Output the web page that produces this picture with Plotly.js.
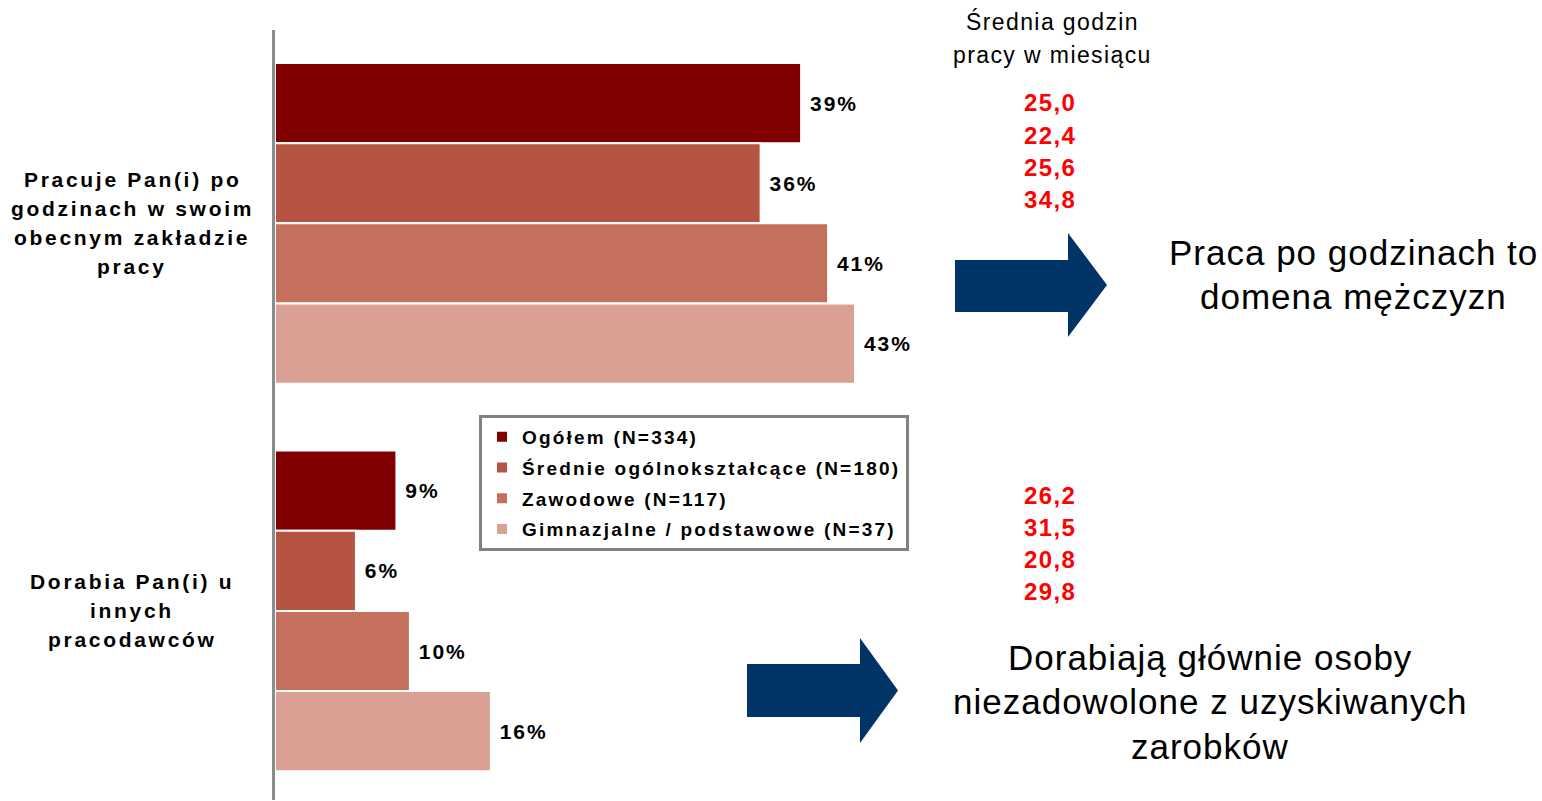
<!DOCTYPE html>
<html><head><meta charset="utf-8">
<script src="https://cdn.plot.ly/plotly-3.0.1.min.js"></script>
<style>body{margin:0;background:#fff}#chart{width:1542px;height:801px}</style>
</head><body><div id="chart"></div>
<script>
// ---- data ----
const categories = ['Pracuje Pan(i) po godzinach w swoim obecnym zakładzie pracy', 'Dorabia Pan(i) u innych pracodawców'];
const categoryLines = [['Pracuje Pan(i) po', 'godzinach w swoim', 'obecnym zakładzie', 'pracy'], ['Dorabia Pan(i) u', 'innych', 'pracodawców']];
const seriesNames = ['Ogółem (N=334)', 'Średnie ogólnokształcące (N=180)', 'Zawodowe (N=117)', 'Gimnazjalne / podstawowe (N=37)'];
const ogolem = [39, 9];
const srednie = [36, 6];
const zawodowe = [41, 10];
const gimnazjalne = [43, 16];
const avgHoursTitle = ['Średnia godzin', 'pracy w miesiącu'];
const avgHoursGroup1 = ['25,0', '22,4', '25,6', '34,8'];
const avgHoursGroup2 = ['26,2', '31,5', '20,8', '29,8'];
const note1 = ['Praca po godzinach to', 'domena mężczyzn'];
const note2 = ['Dorabiają głównie osoby', 'niezadowolone z uzyskiwanych', 'zarobków'];

// ---- styling ----
const colors = ['#800000', '#b55442', '#c5705d', '#d9a093'];
const FONT = 'Liberation Sans, Arial, sans-serif';
const W = 1542, H = 801, PL = 275, PR = 1542, PT = 30, PB = 800;
const px = v => (v - PL) / (PR - PL);
const py = v => (PB - v) / (PB - PT);
const sp = (t, s) => `<span style="letter-spacing:${s}px">${t}</span>`;

const seriesValues = [ogolem, srednie, zawodowe, gimnazjalne];
const traces = seriesValues.map((vals, i) => ({
  type: 'bar', orientation: 'h',
  x: vals, y: categories,
  name: sp(seriesNames[i], 2.2),
  legendgroup: 'g' + i,
  marker: {color: colors[i], line: {color: '#ffffff', width: 2}},
  texttemplate: '\u00a0' + sp('%{x}%', 2),
  textposition: 'outside',
  cliponaxis: false,
  textfont: {family: FONT, size: 21, weight: 'bold', color: '#000'},
  hoverinfo: 'skip'
}));

const annotations = [];
// category labels tied to the y categories
categoryLines.forEach((lines, ci) => {
  const n = lines.length;
  lines.forEach((ln, li) => {
    annotations.push({
      xref: 'paper', yref: 'y', x: px(132), y: categories[ci],
      yshift: -((li - (n - 1) / 2) * 29),
      text: sp(ln, 2.7), showarrow: false, xanchor: 'center', yanchor: 'middle',
      font: {family: FONT, size: 21, weight: 'bold', color: '#000'}
    });
  });
});
const addLines = (lines, cx, ys, size, color, weight, spacing) => {
  lines.forEach((ln, i) => annotations.push({
    xref: 'paper', yref: 'paper', x: px(cx), y: py(ys[i]),
    text: sp(ln, spacing), showarrow: false, xanchor: 'center', yanchor: 'middle',
    font: {family: FONT, size: size, weight: weight, color: color}
  }));
};
addLines(avgHoursTitle, 1052, [22, 55], 23, '#000', 'normal', 1.4);
addLines(avgHoursGroup1, 1050, [103, 135, 167, 199], 24, '#ff0000', 'bold', 1.4);
addLines(avgHoursGroup2, 1050, [495, 527, 559, 591], 24, '#ff0000', 'bold', 1.4);
addLines(note1, 1353, [252, 297], 35, '#000', 'normal', 1.0);
addLines(note2, 1210, [657, 701, 746], 35, '#000', 'normal', 1.0);

const arrowPath = (x0, x1, x2, by0, by1, hy0, hy1) => {
  const ty = (hy0 + hy1) / 2;
  return `M${px(x0)},${py(by0)} L${px(x1)},${py(by0)} L${px(x1)},${py(hy0)} L${px(x2)},${py(ty)} ` +
         `L${px(x1)},${py(hy1)} L${px(x1)},${py(by1)} L${px(x0)},${py(by1)} Z`;
};
const shapes = [
  {type: 'path', xref: 'paper', yref: 'paper', path: arrowPath(955, 1068, 1107, 260, 312, 233, 337), fillcolor: '#003366', line: {width: 0}},
  {type: 'path', xref: 'paper', yref: 'paper', path: arrowPath(747, 860, 898, 664, 717, 638, 743), fillcolor: '#003366', line: {width: 0}}
];

const layout = {
  width: W, height: H,
  margin: {l: PL, r: W - PR, t: PT, b: H - PB, pad: 0},
  paper_bgcolor: '#fff', plot_bgcolor: '#fff',
  barmode: 'group', bargap: 0.172, bargroupgap: 0,
  xaxis: {range: [0, (PR - PL) / 13.49], visible: false, fixedrange: true},
  yaxis: {type: 'category', range: [1.488, -0.499], showline: true, linecolor: '#8c8c8c', linewidth: 3,
          showticklabels: false, ticks: '', showgrid: false, zeroline: false, fixedrange: true},
  showlegend: true,
  legend: {x: px(479), y: py(415), xref: 'paper', yref: 'paper', xanchor: 'left', yanchor: 'top',
           bordercolor: '#808080', borderwidth: 3, bgcolor: '#fff', traceorder: 'grouped', tracegroupgap: 3,
           font: {family: FONT, size: 19, weight: 'bold', color: '#000'}},
  annotations: annotations,
  shapes: shapes
};

Plotly.newPlot('chart', traces, layout, {displayModeBar: false, staticPlot: true});
</script>
</body></html>
